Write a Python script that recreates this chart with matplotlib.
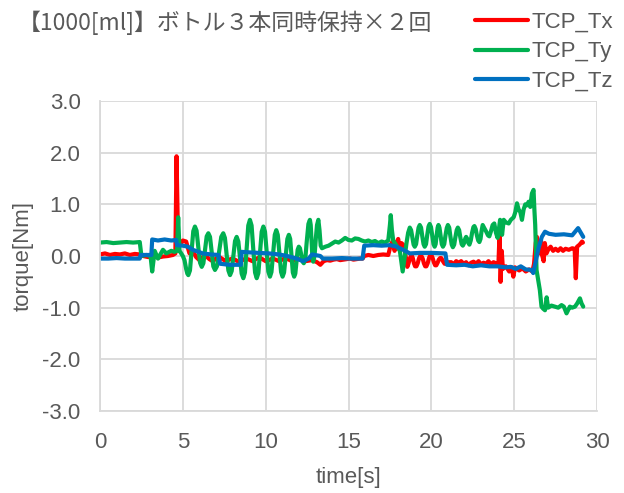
import matplotlib
matplotlib.use("Agg")
import matplotlib.pyplot as plt

# ---------------- data: (time [s], torque [Nm]) ----------------
tcp_tx = [(0, 0.03), (0.3, 0.05), (0.6, 0.02), (0.9, 0.04), (1.2, 0.03), (1.5, 0.05), (1.8, 0.02),
          (2.1, 0.04), (2.4, 0.03), (2.6, 0.0), (2.9, -0.02), (3.2, 0.0), (3.5, -0.03), (3.8, -0.01),
          (4.1, 0.0), (4.4, 0.02), (4.55, 0.05), (4.62, 1.93), (4.67, 1.0), (4.72, 0.15), (4.8, 0.2),
          (5.0, 0.3), (5.2, 0.28), (5.4, 0.05), (5.6, 0.1), (5.8, -0.02), (6.0, -0.08), (6.2, -0.02),
          (6.4, 0.0), (6.6, -0.06), (6.8, -0.1), (7.0, -0.05), (7.2, -0.02), (7.4, -0.06), (7.6, -0.1),
          (7.8, -0.07), (8.0, -0.05), (8.2, -0.08), (8.4, -0.12), (8.6, -0.08), (8.8, -0.05),
          (9.0, -0.07), (9.2, -0.1), (9.4, -0.06), (9.6, -0.03), (9.8, -0.06), (10.0, -0.1),
          (10.2, -0.08), (10.4, -0.05), (10.6, -0.07), (10.8, -0.1), (11.0, -0.07), (11.2, -0.04),
          (11.4, -0.07), (11.6, -0.1), (11.8, -0.08), (12.0, -0.06), (12.2, -0.08), (12.4, -0.1),
          (12.6, -0.09), (12.8, -0.08), (13.1, -0.12), (13.3, -0.17), (13.5, -0.1), (13.7, -0.08),
          (13.9, -0.09), (14.1, -0.07), (14.3, -0.06), (14.5, -0.08), (14.7, -0.07), (14.9, -0.06),
          (15.1, -0.05), (15.3, -0.07), (15.5, -0.06), (15.7, -0.05), (15.85, -0.05), (15.95, 0.0),
          (16.2, 0.02), (16.5, 0.0), (16.8, 0.02), (17.1, 0.03), (17.4, 0.02), (17.5, 0.15),
          (17.6, 0.25), (17.7, 0.3), (17.78, 0.1), (17.85, 0.2), (18.0, 0.33), (18.08, 0.15),
          (18.2, 0.25), (18.35, 0.2), (18.45, 0.0), (18.55, -0.21), (18.62, -0.15), (18.7, -0.05),
          (18.8, 0.02), (18.88, -0.04), (18.95, -0.14), (19.02, -0.2), (19.1, -0.2), (19.18, -0.14),
          (19.25, -0.05), (19.33, 0.0), (19.4, 0.0), (19.48, -0.05), (19.55, -0.14), (19.63, -0.2),
          (19.7, -0.2), (19.78, -0.14), (19.85, -0.05), (19.93, 0.02), (20.0, 0.02), (20.08, -0.04),
          (20.15, -0.12), (20.23, -0.18), (20.3, -0.18), (20.38, -0.13), (20.45, -0.07),
          (20.53, -0.04), (20.6, -0.04), (20.7, -0.1), (20.8, -0.15), (20.9, -0.15), (21.0, -0.12),
          (21.2, -0.12), (21.35, -0.16), (21.5, -0.1), (21.65, -0.13), (21.8, -0.1), (21.95, -0.15),
          (22.1, -0.12), (22.25, -0.18), (22.4, -0.13), (22.55, -0.11), (22.7, -0.15), (22.85, -0.1),
          (23.0, -0.16), (23.15, -0.13), (23.3, -0.15), (23.45, -0.1), (23.6, -0.16), (23.75, -0.12),
          (23.9, -0.14), (24.05, -0.15), (24.12, 0.45), (24.18, -0.5), (24.25, 0.1), (24.32, -0.25),
          (24.5, -0.2), (24.7, -0.3), (24.85, -0.22), (24.95, -0.4), (25.05, -0.22), (25.3, -0.28),
          (25.5, -0.24), (25.7, -0.3), (25.9, -0.26), (26.1, -0.3), (26.2, -0.15), (26.3, 0.25),
          (26.37, 0.37), (26.45, 0.2), (26.55, 0.05), (26.62, 0.3), (26.7, 0.0), (26.78, -0.1),
          (26.85, 0.25), (26.95, 0.05), (27.05, 0.12), (27.2, 0.18), (27.35, 0.1), (27.5, 0.14),
          (27.65, 0.1), (27.8, 0.15), (27.95, 0.1), (28.1, 0.14), (28.3, 0.12), (28.5, 0.15),
          (28.65, 0.14), (28.72, -0.43), (28.8, 0.18), (28.95, 0.22), (29.1, 0.28), (29.15, 0.26)]

tcp_ty = [(0, 0.26), (0.4, 0.27), (0.8, 0.25), (1.2, 0.26), (1.6, 0.27), (2.0, 0.26), (2.4, 0.27),
          (2.5, 0.0), (2.8, 0.02), (3.05, 0.0), (3.15, -0.3), (3.3, 0.1), (3.5, -0.05), (3.8, 0.12),
          (4.0, 0.05), (4.3, 0.1), (4.5, 0.08), (4.65, 0.1), (4.72, 0.75), (4.8, 0.1), (5.0, 0.0),
          (5.1, -0.08), (5.2, -0.25), (5.27, -0.34), (5.33, -0.37), (5.43, -0.28), (5.53, 0.1),
          (5.63, 0.48), (5.73, 0.57), (5.83, 0.49), (5.93, 0.18), (6.04, -0.13), (6.14, -0.21),
          (6.24, -0.14), (6.34, 0.12), (6.44, 0.38), (6.54, 0.44), (6.64, 0.37), (6.74, 0.09),
          (6.84, -0.2), (6.94, -0.27), (7.06, -0.2), (7.19, 0.09), (7.32, 0.37), (7.44, 0.44),
          (7.54, 0.35), (7.64, 0.04), (7.75, -0.28), (7.85, -0.37), (7.95, -0.29), (8.05, 0.0),
          (8.15, 0.29), (8.25, 0.37), (8.35, 0.28), (8.45, -0.03), (8.55, -0.34), (8.65, -0.43),
          (8.75, -0.32), (8.85, 0.14), (8.95, 0.59), (9.05, 0.70), (9.15, 0.59), (9.25, 0.14),
          (9.36, -0.32), (9.46, -0.43), (9.56, -0.33), (9.66, 0.07), (9.76, 0.47), (9.86, 0.57),
          (9.96, 0.47), (10.06, 0.09), (10.16, -0.3), (10.26, -0.40), (10.35, -0.31), (10.45, 0.05),
          (10.55, 0.41), (10.64, 0.50), (10.73, 0.41), (10.83, 0.05), (10.93, -0.31), (11.02, -0.40),
          (11.11, -0.32), (11.21, 0.0), (11.31, 0.33), (11.4, 0.41), (11.48, 0.33), (11.56, 0.0),
          (11.64, -0.32), (11.72, -0.40), (11.79, -0.34), (11.86, -0.11), (11.93, 0.12), (12.0, 0.18),
          (12.07, 0.15), (12.15, 0.02), (12.23, -0.11), (12.3, -0.14), (12.39, -0.06), (12.48, 0.28),
          (12.58, 0.62), (12.67, 0.70), (12.72, 0.6), (12.77, 0.3), (12.82, -0.02), (12.87, -0.11),
          (12.95, 0.0), (13.03, 0.35), (13.1, 0.6), (13.18, 0.70), (13.25, 0.5), (13.32, 0.2),
          (13.4, 0.15), (13.6, 0.18), (13.8, 0.2), (14.0, 0.24), (14.2, 0.28), (14.4, 0.26),
          (14.6, 0.3), (14.8, 0.35), (15.0, 0.31), (15.2, 0.3), (15.4, 0.34), (15.6, 0.33),
          (15.8, 0.3), (16.0, 0.28), (16.2, 0.3), (16.4, 0.27), (16.6, 0.29), (16.8, 0.25),
          (17.0, 0.28), (17.2, 0.26), (17.4, 0.3), (17.5, 0.6), (17.55, 0.79), (17.62, 0.5),
          (17.7, 0.3), (17.9, 0.2), (18.1, 0.1), (18.27, -0.30), (18.4, 0.0), (18.5, 0.25),
          (18.6, 0.45), (18.7, 0.55), (18.78, 0.5), (18.86, 0.35), (18.93, 0.22), (19.0, 0.18),
          (19.08, 0.23), (19.15, 0.39), (19.23, 0.55), (19.3, 0.6), (19.38, 0.55), (19.45, 0.39),
          (19.53, 0.23), (19.6, 0.18), (19.68, 0.23), (19.75, 0.4), (19.83, 0.57), (19.9, 0.62),
          (19.98, 0.56), (20.05, 0.4), (20.13, 0.23), (20.2, 0.18), (20.26, 0.23), (20.32, 0.4),
          (20.38, 0.55), (20.43, 0.6), (20.49, 0.55), (20.56, 0.39), (20.63, 0.23), (20.7, 0.18),
          (20.78, 0.23), (20.85, 0.39), (20.93, 0.54), (21.0, 0.6), (21.08, 0.55), (21.15, 0.38),
          (21.23, 0.22), (21.3, 0.17), (21.38, 0.22), (21.45, 0.36), (21.53, 0.5), (21.6, 0.55),
          (21.68, 0.5), (21.75, 0.36), (21.83, 0.23), (21.9, 0.2), (21.98, 0.25), (22.05, 0.34),
          (22.1, 0.37), (22.17, 0.33), (22.24, 0.25), (22.3, 0.22), (22.38, 0.3), (22.46, 0.45),
          (22.54, 0.56), (22.6, 0.58), (22.68, 0.52), (22.75, 0.4), (22.83, 0.3), (22.9, 0.27),
          (22.97, 0.33), (23.03, 0.48), (23.1, 0.6), (23.18, 0.55), (23.3, 0.48), (23.42, 0.4),
          (23.5, 0.38), (23.6, 0.48), (23.7, 0.6), (23.8, 0.63), (23.9, 0.45), (24.0, 0.35),
          (24.07, 0.5), (24.15, 0.7), (24.27, 0.41), (24.37, 0.70), (24.5, 0.65), (24.67, 0.63),
          (24.8, 0.7), (24.97, 0.75), (25.07, 0.85), (25.17, 1.02), (25.27, 0.9), (25.37, 0.85),
          (25.47, 0.70), (25.57, 0.9), (25.67, 1.0), (25.77, 0.98), (25.87, 1.05), (25.97, 0.95),
          (26.07, 1.21), (26.17, 1.28), (26.22, 0.9), (26.27, 0.6), (26.35, -0.27), (26.55, -0.66),
          (26.65, -0.98), (26.75, -1.02), (26.86, -1.05), (26.96, -0.8), (27.05, -1.0),
          (27.25, -0.96), (27.46, -0.98), (27.66, -1.0), (27.86, -0.95), (28.0, -0.98),
          (28.16, -1.11), (28.36, -0.98), (28.5, -1.0), (28.67, -0.98), (28.8, -0.92),
          (28.97, -0.82), (29.07, -0.92), (29.17, -0.98)]

tcp_tz = [(0, -0.05), (0.5, -0.05), (1.0, -0.04), (1.5, -0.05), (2.0, -0.05), (2.4, -0.05),
          (2.45, 0.02), (3.1, 0.02), (3.15, 0.32), (3.5, 0.3), (3.9, 0.32), (4.3, 0.3), (4.6, 0.31),
          (4.65, 0.21), (5.0, 0.2), (5.3, 0.18), (5.6, 0.12), (6.2, 0.05), (6.7, 0.03), (7.15, 0.02),
          (7.25, -0.15), (7.8, -0.17), (8.5, -0.17), (8.55, 0.08), (9.0, 0.07), (9.6, 0.06),
          (10.2, 0.05), (10.8, 0.03), (11.3, 0.0), (11.87, -0.05), (12.25, -0.1), (12.6, -0.05),
          (12.8, 0.03), (13.3, 0.0), (13.45, -0.05), (14.0, -0.05), (14.6, -0.04), (15.2, -0.05),
          (15.85, -0.05), (15.95, 0.2), (16.5, 0.21), (17.0, 0.2), (17.5, 0.21), (17.9, 0.18),
          (18.3, 0.12), (18.7, 0.05), (19.3, 0.06), (20.0, 0.06), (20.85, 0.05), (20.95, -0.17),
          (21.5, -0.18), (22.0, -0.17), (22.5, -0.2), (23.0, -0.18), (23.5, -0.2), (24.0, -0.2),
          (24.5, -0.22), (24.8, -0.21), (25.1, -0.25), (25.4, -0.2), (25.7, -0.26), (26.05, -0.27),
          (26.15, -0.33), (26.37, 0.0), (26.47, 0.15), (26.67, 0.37), (26.86, 0.47), (27.1, 0.43),
          (27.5, 0.41), (28.0, 0.42), (28.5, 0.4), (28.86, 0.54), (29.17, 0.37)]

series_names = ["TCP_Tx", "TCP_Ty", "TCP_Tz"]
series_colors = ["#FF0000", "#00B050", "#0070C0"]
x_ticks = [0, 5, 10, 15, 20, 25, 30]
y_ticks = [-3.0, -2.0, -1.0, 0.0, 1.0, 2.0, 3.0]
title = "【1000[ml]】ボトル３本同時保持×２回"

# ---------------- figure ----------------
W, H = 624, 493
fig = plt.figure(figsize=(W / 100, H / 100), dpi=100)
ax = fig.add_axes([100 / W, 1 - 411 / H, 497 / W, 310 / H])

txt = "#595959"
grid = "#D9D9D9"
font = ["Liberation Sans", "DejaVu Sans"]

for data, name, col in zip([tcp_tx, tcp_ty, tcp_tz], series_names, series_colors):
    t = [p[0] for p in data]
    v = [p[1] for p in data]
    ax.plot(t, v, color=col, lw=3.0, label=name, solid_joinstyle="round", solid_capstyle="round")

ax.set_xlim(0, 30)
ax.set_ylim(-3, 3)
ax.set_xticks(x_ticks)
ax.set_yticks(y_ticks)
ax.set_xticklabels([str(x) for x in x_ticks], fontsize=16, color=txt, family=font)
ax.set_yticklabels([f"{y:.1f}" for y in y_ticks], fontsize=16, color=txt, family=font)
ax.tick_params(axis="x", length=0, pad=15)
ax.tick_params(axis="y", length=0, pad=14)
ax.grid(True, color=grid, lw=1.3)
ax.set_axisbelow(True)
for s in ["top", "right"]:
    ax.spines[s].set_visible(False)
for s in ["left", "bottom"]:
    ax.spines[s].set_color(grid)
    ax.spines[s].set_linewidth(1.3)

ax.set_xlabel("time[s]", fontsize=16, color=txt, family=font, labelpad=10)
ax.set_ylabel("torque[Nm]", fontsize=16, color=txt, family=font, labelpad=6)

fig.text(18 / W, 1 - 23 / H, title, fontsize=16.5, color=txt,
         family=["Noto Sans CJK JP", "DejaVu Sans"], va="center", ha="left")

leg = fig.legend(loc="upper left", bbox_to_anchor=(475 / W, 1 - 12 / H), frameon=False,
                 prop={"family": font, "size": 16}, handlelength=2.4, handletextpad=0.15,
                 labelspacing=0.38, borderpad=0, borderaxespad=0)
for t in leg.get_texts():
    t.set_color(txt)

fig.savefig("out.png", dpi=100, facecolor="white")
